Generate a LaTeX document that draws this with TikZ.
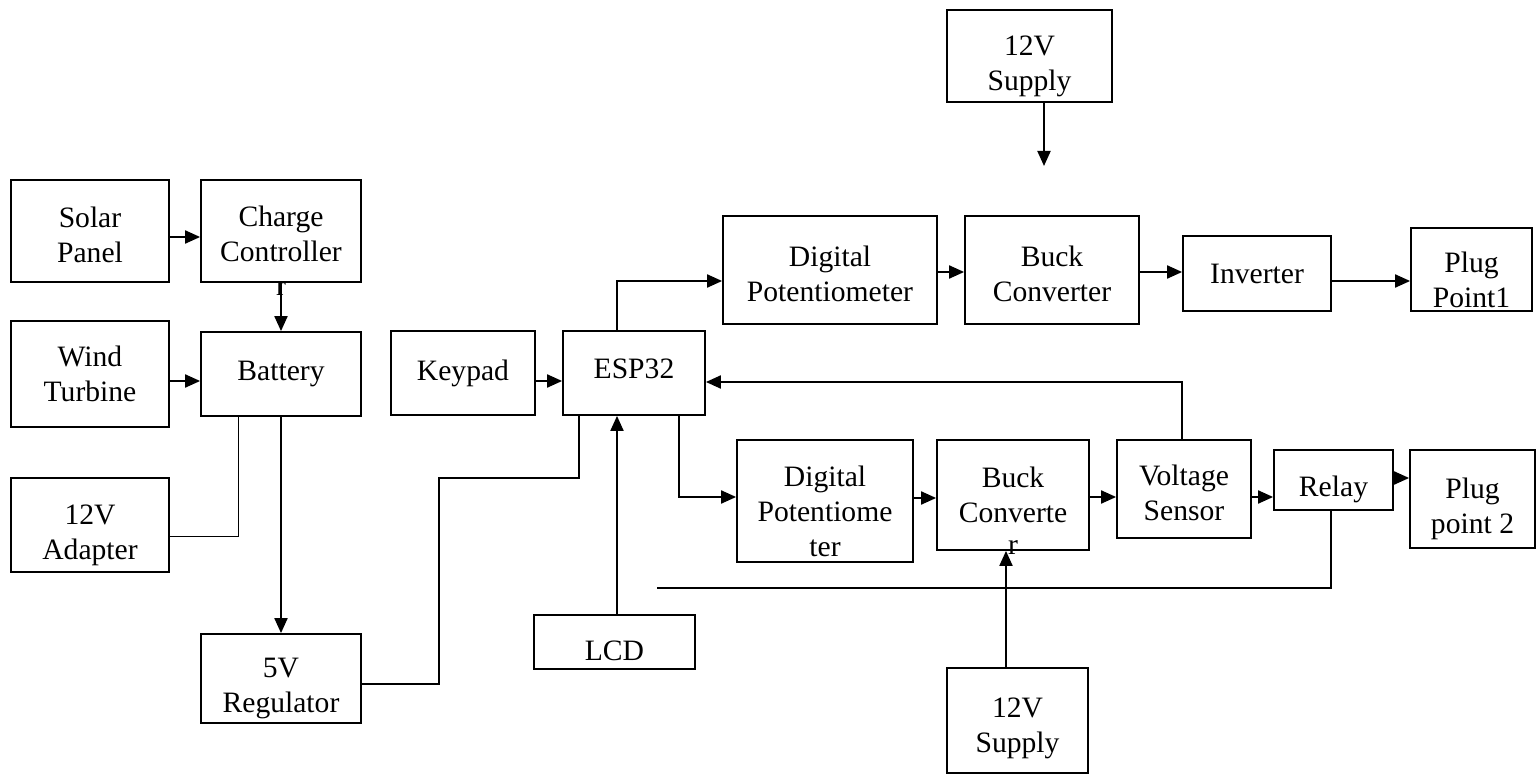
\documentclass[tikz,border=0pt]{standalone}
\usepackage{fontspec}
\setmainfont{Liberation Serif}
\usetikzlibrary{positioning,calc,arrows.meta}
\tikzset{
  blk/.style={draw=black,line width=0.9pt,fill=white,align=center,inner sep=0pt,
    font=\fontsize{14.8pt}{17.5pt}\selectfont},
  lbl/.style={inner sep=0pt,align=center,font=\fontsize{14.8pt}{17.5pt}\selectfont},
  arr/.style={draw=black,line width=1pt,-{Triangle[length=7.5pt,width=6.5pt]}},
  wire/.style={draw=black,line width=0.75pt},
}

\begin{document}
\begin{tikzpicture}[x=0.5pt,y=-0.5pt]
\useasboundingbox (0,0) rectangle (1536,775);
\node[blk,minimum width=79pt,minimum height=51pt,label={[lbl,yshift=-2pt]center:{Solar\\Panel}}] (solar) at (90,231) {};
\node[blk,minimum width=80pt,minimum height=51pt,label={[lbl,yshift=-1.5pt]center:{Charge\\Controller}}] (charge) at (281,231) {};
\node[lbl] (chargeR) at (281,289) {r};
\node[blk,minimum width=79pt,minimum height=53pt] (wind) at (90,374) {Wind\\Turbine};
\node[blk,minimum width=80pt,minimum height=42pt] (battery) at (281,374) {Battery};
\node[blk,minimum width=79pt,minimum height=47pt,label={[lbl,yshift=-5pt]center:{12V\\Adapter}}] (adapter) at (90,525) {};
\node[blk,minimum width=80pt,minimum height=44.5pt,label={[lbl,yshift=-5pt]center:{5V\\Regulator}}] (reg) at (281,678.5) {};
\node[blk,minimum width=72pt,minimum height=42pt] (keypad) at (463,373) {Keypad};
\node[blk,minimum width=71pt,minimum height=42pt,label={[lbl,yshift=2pt]center:ESP32}] (esp) at (634,373) {};
\node[blk,minimum width=80.5pt,minimum height=27pt,label={[lbl,yshift=-4.5pt]center:LCD}] (lcd) at (614.5,642) {};
\node[blk,minimum width=107pt,minimum height=54pt,label={[lbl,yshift=-2pt]center:{Digital\\Potentiometer}}] (potA) at (830,270) {};
\node[blk,minimum width=87pt,minimum height=54pt,label={[lbl,yshift=-2pt]center:{Buck\\Converter}}] (buckA) at (1052,270) {};
\node[blk,minimum width=74pt,minimum height=37.5pt] (inv) at (1257,273.5) {Inverter};
\node[blk,minimum width=60.5pt,minimum height=41.5pt,label={[lbl,yshift=-5pt]center:{Plug\\Point1}}] (plugA) at (1471.5,269.5) {};
\node[blk,minimum width=82.5pt,minimum height=46pt,label={[lbl,yshift=-5pt]center:{12V\\Supply}}] (supA) at (1029.5,56) {};
\node[blk,minimum width=88pt,minimum height=61pt,label={[lbl,yshift=-5pt]center:{Digital\\Potentiome\\ter}}] (potB) at (825,501) {};
\node[blk,minimum width=76pt,minimum height=55pt] (buckB) at (1013,495) {Buck\\Converte};
\node[lbl] (buckR) at (1013,548) {r};
\node[blk,minimum width=67pt,minimum height=49pt,label={[lbl,yshift=-2pt]center:{Voltage\\Sensor}}] (sensor) at (1184,489) {};
\node[blk,minimum width=59.5pt,minimum height=30pt,label={[lbl,yshift=-4.5pt]center:Relay}] (relay) at (1333.5,480) {};
\node[blk,minimum width=62.5pt,minimum height=49pt,label={[lbl,yshift=-5pt]center:{Plug\\point 2}}] (plugB) at (1472.5,499) {};
\node[blk,minimum width=70.5pt,minimum height=52.5pt,label={[lbl,yshift=-4pt]center:{12V\\Supply}}] (supB) at (1017.5,720.5) {};
\coordinate (supAend) at (1044,166);
\coordinate (relayend) at (657,588);
\draw[arr] (solar.east |- 0,237) -- (charge.west |- 0,237);
\draw[arr] (charge.south) -- (battery.north);
\draw[arr] (wind.east |- 0,381) -- (battery.west |- 0,381);
\draw[arr] (battery.south) -- (reg.north);
\draw[draw=black,line width=0.5pt] (adapter.east |- 0,536) -| (battery.south -| 238,0);
\draw[wire] (reg.east |- 0,684) -| (439,478) -| (esp.south -| 579,0);
\draw[arr] (keypad.east |- 0,381) -- (esp.west |- 0,381);
\draw[arr] (esp.north -| 617,0) |- (potA.west |- 0,281);
\draw[arr] (potA.east |- 0,272) -- (buckA.west |- 0,272);
\draw[arr] (buckA.east |- 0,272) -- (inv.west |- 0,272);
\draw[arr] (inv.east |- 0,281) -- (plugA.west |- 0,281);
\draw[arr] (supA.south -| supAend) -- (supAend);
\draw[arr] (esp.south -| 679,0) |- (potB.west |- 0,497);
\draw[arr] (potB.east |- 0,498) -- (buckB.west |- 0,498);
\draw[arr] (buckB.east |- 0,497) -- (sensor.west |- 0,497);
\draw[arr] (sensor.east |- 0,497) -- (relay.west |- 0,497);
\draw[arr] (relay.east |- 0,478) -- (plugB.west |- 0,478);
\draw[arr] (sensor.north -| 1182,0) |- (esp.east |- 0,382);
\draw[wire] (relay.south -| 1331,0) |- (relayend);
\draw[arr] (lcd.north -| 617,0) -- (esp.south -| 617,0);
\draw[arr] (supB.north -| 1006,0) -- (buckB.south -| 1006,0);
\end{tikzpicture}
\end{document}
